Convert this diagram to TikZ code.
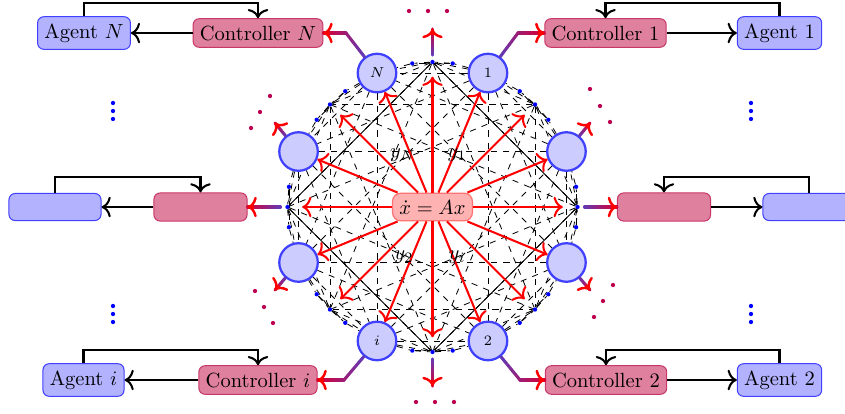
\documentclass[tikz,border=0pt]{standalone}
\usetikzlibrary{calc,arrows.meta}
\pgfdeclarelayer{bg}
\pgfsetlayers{bg,main}
\definecolor{gStart}{RGB}{95,60,185}
\definecolor{gEnd}{RGB}{215,0,55}
\definecolor{ctrlfill}{RGB}{223,128,158}
\definecolor{ctrldraw}{RGB}{200,55,105}
\definecolor{reddot}{RGB}{190,0,80}
\tikzset{
 headtip/.style={-{Computer Modern Rightarrow[length=4.5pt,width=10pt]}},
 agent/.style={draw=blue!75, fill=blue!30, rounded corners=3pt, line width=0.5pt},
 ctrl/.style={draw=ctrldraw, fill=ctrlfill, rounded corners=3pt, line width=0.5pt},
 sens/.style={circle, draw=blue!75, fill=blue!20, line width=1.1pt, minimum size=18.8pt, inner sep=0pt, font=\scriptsize},
 bdot/.style={circle, fill=blue, inner sep=0pt, minimum size=2.1pt},
 rdot/.style={circle, fill=reddot, inner sep=0pt, minimum size=2.1pt},
 cen/.style={draw=red!55, fill=red!30, rounded corners=4pt, line width=0.6pt},
 fb/.style={headtip, line width=1pt, black},
 rarr/.style={headtip, line width=1pt, red},
 dl/.style={dash pattern=on 3pt off 3pt, line width=0.4pt, black},
 gl/.style={line width=1.5pt, line cap=round},
}
\newcommand{\gradseg}[4]{%
  \foreach \k in {0,...,7}{%
    \pgfmathsetmacro{\ta}{\k/8}%
    \pgfmathsetmacro{\tb}{(\k+1)/8}%
    \pgfmathsetmacro{\pc}{#3+(#4-#3)*(\k+0.5)/8}%
    \draw[gl, color=gEnd!\pc!gStart] ($(#1)!\ta!(#2)$) -- ($(#1)!\tb!(#2)$);
  }}
\newcommand{\gradtip}[2]{%
  \draw[headtip, red, line width=1.2pt] ($(#2)!3pt!(#1)$) -- (#2);}
\begin{document}
\begin{tikzpicture}[x=0.4878pt,y=-0.4878pt]
\useasboundingbox (0,0) rectangle (845,413);
\clip (0,0) rectangle (845,413);

% ring of sensors and dots
\foreach \a/\t/\l [count=\i] in {-8/d/{},0/d/{},8/d/{},22.5/s/{},37/d/{},45/d/{},53/d/{},67.5/s/1,
  82/d/{},90/d/{},98/d/{},112.5/s/$N$,127/d/{},135/d/{},143/d/{},157.5/s/{},
  172/d/{},180/d/{},188/d/{},202.5/s/{},217/d/{},225/d/{},233/d/{},247.5/s/$i$,
  262/d/{},270/d/{},278/d/{},292.5/s/2,307/d/{},315/d/{},323/d/{},337.5/s/{}}{
  \if\t d
    \node[bdot] (p\i) at ({432.5+145*cos(\a)},{207-145*sin(\a)}) {};
  \else
    \node[sens] (p\i) at ({432.5+145*cos(\a)},{207-145*sin(\a)}) {\l};
  \fi
}

% centre
\node[cen] (x) at (432.5,207) {$\dot{x} = Ax$};

% boxes
\node[agent] (agN) at (84,33) {Agent $N$};
\node[ctrl] (ctrlN) at (258,33) {Controller $N$};
\node[ctrl] (ctrl1) at (605.5,33) {Controller 1};
\node[agent] (ag1) at (779.5,33) {Agent 1};
\node[agent, minimum width=44.9pt, minimum height=13.2pt] (agL) at (55,207) {};
\node[ctrl, minimum width=45.4pt, minimum height=13.7pt] (ctrlL) at (200.5,207) {};
\node[ctrl, minimum width=45.4pt, minimum height=13.7pt] (ctrlR) at (664,207) {};
\node[agent, minimum width=44.9pt, minimum height=13.2pt] (agR) at (809,207) {};
\node[agent] (agi) at (83.5,380) {Agent $i$};
\node[ctrl] (ctrli) at (258,380) {Controller $i$};
\node[ctrl] (ctrl2) at (606,380) {Controller 2};
\node[agent] (ag2) at (779.5,380) {Agent 2};

% dashed interconnections
\begin{pgfonlayer}{bg}
\foreach \a [count=\i] in {-8,0,8,22.5,37,45,53,67.5,82,90,98,112.5,127,135,143,157.5,172,180,188,202.5,217,225,233,247.5,262,270,278,292.5,307,315,323,337.5}{
  \foreach \b [count=\j] in {-8,0,8,22.5,37,45,53,67.5,82,90,98,112.5,127,135,143,157.5,172,180,188,202.5,217,225,233,247.5,262,270,278,292.5,307,315,323,337.5}{
    \ifnum\j>\i
      \pgfmathsetmacro{\s}{abs(\a-\b)}
      \pgfmathsetmacro{\s}{min(\s,360-\s)}
      \ifdim\s pt<23pt \draw[dl] (p\i) -- (p\j); \fi
      \ifodd\i\else\ifodd\j\else
        \ifdim\s pt>44pt \ifdim\s pt<46pt \draw[dl] (p\i) -- (p\j); \fi\fi
        \ifdim\s pt>89pt \ifdim\s pt<91pt \draw[dl] (p\i) -- (p\j); \fi\fi
        \ifdim\s pt>134pt \ifdim\s pt<136pt \draw[dl] (p\i) -- (p\j); \fi\fi
      \fi\fi
    \fi
  }
}
\draw[line width=0.4pt] (p2) -- (p10) -- (p18) -- (p26) -- (p2);
\end{pgfonlayer}

% outputs from plant
\foreach \i in {4,8,...,32} \draw[rarr] (x) -- (p\i);
\foreach \i in {2,6,...,30} \draw[rarr, shorten >=5.9pt] (x) -- (p\i);

\node (yN) at (403,155) {$y_N$};
\node (y1) at (457,155) {$y_1$};
\node (y2) at (404,257) {$y_2$};
\node (yi) at (457,257) {$y_i$};

% corners and free ends
\coordinate (k1) at (518,33);
\coordinate (kN) at (346,33);
\coordinate (ki) at (344,380);
\coordinate (k2) at (520,380);
\coordinate (eUR) at (590,123);
\coordinate (eUL) at (275,123);
\coordinate (eLL) at (275,290);
\coordinate (eLR) at (590,290);
\coordinate (eT) at (432.5,29);
\coordinate (eB) at (432.5,386);

\path (p8) -- (k1) coordinate[pos=0] (s1);
\path (p12) -- (kN) coordinate[pos=0] (sN);
\path (p24) -- (ki) coordinate[pos=0] (si);
\path (p28) -- (k2) coordinate[pos=0] (s2);
\path (p4) -- (eUR) coordinate[pos=0] (sUR);
\path (p16) -- (eUL) coordinate[pos=0] (sUL);
\path (p20) -- (eLL) coordinate[pos=0] (sLL);
\path (p32) -- (eLR) coordinate[pos=0] (sLR);
\coordinate (sT) at ($(p10)!3.4pt!(eT)$);
\coordinate (sB) at ($(p26)!3.4pt!(eB)$);
\coordinate (sR) at ($(p2)!3.4pt!(ctrlR.west)$);
\coordinate (sL) at ($(p18)!3.4pt!(ctrlL.east)$);

\gradseg{s1}{k1}{0}{50}\gradseg{k1}{ctrl1.west}{50}{100}\gradtip{k1}{ctrl1.west}
\gradseg{sN}{kN}{0}{50}\gradseg{kN}{ctrlN.east}{50}{100}\gradtip{kN}{ctrlN.east}
\gradseg{si}{ki}{0}{50}\gradseg{ki}{ctrli.east}{50}{100}\gradtip{ki}{ctrli.east}
\gradseg{s2}{k2}{0}{50}\gradseg{k2}{ctrl2.west}{50}{100}\gradtip{k2}{ctrl2.west}
\gradseg{sUR}{eUR}{0}{100}\gradtip{sUR}{eUR}
\gradseg{sUL}{eUL}{0}{100}\gradtip{sUL}{eUL}
\gradseg{sLL}{eLL}{0}{100}\gradtip{sLL}{eLL}
\gradseg{sLR}{eLR}{0}{100}\gradtip{sLR}{eLR}
\gradseg{sT}{eT}{0}{100}\gradtip{sT}{eT}
\gradseg{sB}{eB}{0}{100}\gradtip{sB}{eB}
\gradseg{sR}{ctrlR.west}{0}{100}\gradtip{sR}{ctrlR.west}
\gradseg{sL}{ctrlL.east}{0}{100}\gradtip{sL}{ctrlL.east}

% feedback loops
\draw[fb] (agN.north) -- ++(0,-13) -| (ctrlN.north);
\draw[fb] (ctrlN.west) -- (agN.east);
\draw[fb] (ag1.north) -- ++(0,-13) -| (ctrl1.north);
\draw[fb] (ctrl1.east) -- (ag1.west);
\draw[fb] (agL.north) -- ++(0,-15.5) -| (ctrlL.north);
\draw[fb] (ctrlL.west) -- (agL.east);
\draw[fb] (agR.north) -- ++(0,-15.5) -| (ctrlR.north);
\draw[fb] (ctrlR.east) -- (agR.west);
\draw[fb] (agi.north) -- ++(0,-13) -| (ctrli.north);
\draw[fb] (ctrli.west) -- (agi.east);
\draw[fb] (ag2.north) -- ++(0,-13) -| (ctrl2.north);
\draw[fb] (ctrl2.east) -- (ag2.west);

% ellipsis dots
\foreach \px/\py [count=\n] in {590/89,600/106,610/122,270/96,260/112,251/128,255/291,264/307,273/323,613/285,603/301,594/317,409/11,428/11,447/11,416/402,435/402,454/402}
  \node[rdot] (r\n) at (\px,\py) {};
\foreach \px/\py [count=\n] in {113/103,113/111,113/119,751/103,751/111,751/119,113/306,113/314,113/322,751/306,751/314,751/322}
  \node[bdot] (v\n) at (\px,\py) {};
\end{tikzpicture}
\end{document}
